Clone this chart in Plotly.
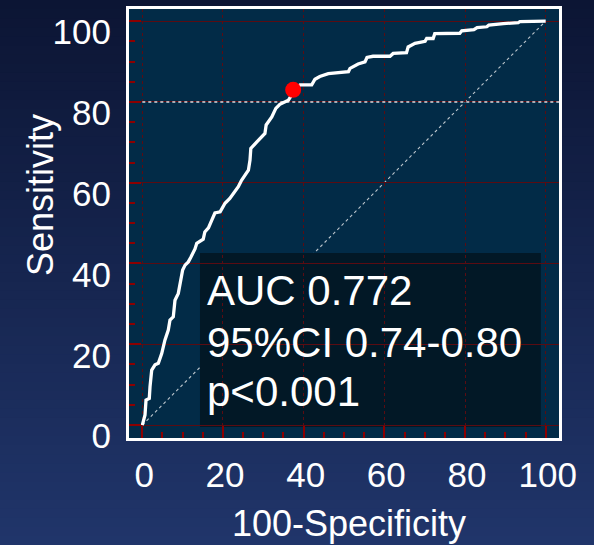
import plotly.graph_objects as go

# ---- data ----
roc_x = [0, 0.67, 0.92, 1.73, 1.91, 2.33, 3.15, 3.97, 4.81, 5.2, 5.6, 6.44, 6.86, 7.68, 8.1, 8.92,
         9.34, 10.0, 10.6, 11.4, 12.0, 13.06, 13.5, 15.1, 15.5, 16.4, 17.2, 18.0, 19.3, 20.5, 21.7,
         23.8, 24.6, 26.3, 26.7, 26.9, 28.4, 30.4, 30.7, 32.1, 33.1, 34.1, 36.2, 37.0, 37.4, 39.1,
         42.0, 42.8, 44.0, 46.1, 51.1, 51.5, 53.5, 55.2, 55.7, 57.2, 61.4, 62.2, 65.5, 65.9, 67.6,
         70.1, 70.5, 72.1, 72.5, 78.7, 79.2, 82.2, 83.0, 85.4, 85.9, 87.9, 89.5, 93.2, 93.6, 100]
roc_y = [0, 2.5, 6.2, 6.6, 9.5, 13.6, 14.9, 15.3, 17.7, 19.8, 21.0, 23.5, 26.0, 26.8, 30.9, 32.6,
         35.1, 38.4, 39.6, 40.4, 41.5, 43.6, 45.0, 46.0, 47.8, 48.8, 50.7, 52.5, 52.8, 54.9, 56.1,
         59.0, 60.6, 63.1, 65.6, 68.5, 70.1, 72.2, 74.3, 76.3, 78.4, 79.4, 80.4, 81.7, 82.9, 84.2,
         84.2, 85.6, 86.3, 87.0, 87.5, 88.3, 89.4, 89.9, 91.0, 91.3, 91.3, 92.0, 92.2, 93.6, 94.5,
         95.0, 95.7, 95.7, 96.9, 97.0, 97.6, 97.9, 98.4, 98.6, 99.0, 99.3, 99.4, 99.6, 99.9, 100]
cut_x = [37.4]
cut_y = [83.0]
ref_level = 80
stats_lines = ["AUC 0.772", "95%CI 0.74-0.80", "p<0.001"]
tick_vals = [0, 20, 40, 60, 80, 100]
tick_text = ["0", "20", "40", "60", "80", "100"]
x_title = "100-Specificity"
y_title = "Sensitivity"

W, H = 594, 545
ML, MR, MT, MB = 129, 35, 9, 107
PW, PH = W - ML - MR, H - MT - MB

FONT = "Liberation Sans, Arial, sans-serif"
GRID = "#5a0c12"
TICK = "#8b0000"

shapes = []
# vertical background gradient (paper coords extended over margins)
top_c = (12, 21, 52)
bot_c = (32, 53, 106)
n = 60
y_lo = -MB / PH
y_hi = 1 + MT / PH
for i in range(n):
    t = i / (n - 1)
    r = round(bot_c[0] + (top_c[0] - bot_c[0]) * t)
    g = round(bot_c[1] + (top_c[1] - bot_c[1]) * t)
    b = round(bot_c[2] + (top_c[2] - bot_c[2]) * t)
    y0 = y_lo + (y_hi - y_lo) * i / n
    y1 = y_lo + (y_hi - y_lo) * (i + 1) / n + 0.002
    shapes.append(dict(type="rect", xref="paper", yref="paper", x0=-0.5, x1=1.5, y0=y0, y1=y1,
                       fillcolor=f"rgb({r},{g},{b})", line_width=0, layer="below"))
# plot area background
shapes.append(dict(type="rect", xref="paper", yref="paper", x0=0, x1=1, y0=0, y1=1,
                   fillcolor="#022b47", line_width=0, layer="below"))
# diagonal reference
shapes.append(dict(type="line", xref="x", yref="y", x0=0, y0=0, x1=100, y1=100,
                   line=dict(color="rgba(210,215,220,0.9)", width=1.1, dash="dot"), layer="below"))
# stats box
shapes.append(dict(type="rect", xref="x", yref="y", x0=14.3, x1=98.8, y0=-0.5, y1=42.6,
                   fillcolor="#021826", line_width=0, layer="below"))

fig = go.Figure()
fig.add_trace(go.Scatter(x=[0, 103.3], y=[ref_level, ref_level], mode="lines",
                         line=dict(color="rgba(225,228,232,0.95)", width=1.5, dash="dot"),
                         hoverinfo="skip", showlegend=False))
fig.add_trace(go.Scatter(x=roc_x, y=roc_y, mode="lines",
                         line=dict(color="white", width=3.3), showlegend=False))
fig.add_trace(go.Scatter(x=cut_x, y=cut_y, mode="markers",
                         marker=dict(color="#ff0000", size=16, line_width=0), showlegend=False))

annotations = []
ann_y = [33.4, 20.5, 8.2]
for txt, yy in zip(stats_lines, ann_y):
    annotations.append(dict(x=15.6, y=yy, xref="x", yref="y", text=txt, showarrow=False,
                            xanchor="left", yanchor="middle",
                            font=dict(family=FONT, size=42, color="white")))
annotations.append(dict(x=(349 - ML) / PW, y=(438 - 523) / PH, xref="paper", yref="paper",
                        text=x_title, showarrow=False, xanchor="center", yanchor="middle",
                        font=dict(family=FONT, size=36, color="white")))
annotations.append(dict(x=(40 - ML) / PW, y=(438 - 195) / PH, xref="paper", yref="paper",
                        text=y_title, showarrow=False, xanchor="center", yanchor="middle",
                        textangle=-90, font=dict(family=FONT, size=36, color="white")))

axis_common = dict(
    tickvals=tick_vals, ticktext=tick_text,
    ticks="inside", ticklen=12, tickwidth=2, tickcolor=TICK,
    showline=True, linecolor="white", linewidth=3, mirror=True,
    showgrid=True, gridcolor=GRID, gridwidth=1,
    zeroline=False, automargin=False,
    tickfont=dict(family=FONT, size=35, color="white"),
    minor=dict(dtick=5, tick0=0, ticks="inside", ticklen=6, tickwidth=2, tickcolor=TICK,
               showgrid=False),
)

fig.update_layout(
    width=W, height=H,
    margin=dict(l=ML, r=MR, t=MT, b=MB, pad=0, autoexpand=False),
    paper_bgcolor="#16264f",
    plot_bgcolor="#022b47",
    shapes=shapes,
    annotations=annotations,
    xaxis=dict(range=[-3.3, 103.3], griddash="dot", ticklabelstandoff=4, ticklabelshift=2,
               **axis_common),
    yaxis=dict(range=[-3.2, 103.0], griddash="solid", ticklabelstandoff=8, ticklabelshift=11,
               **axis_common),
    showlegend=False,
)

fig.write_html("out.html")
